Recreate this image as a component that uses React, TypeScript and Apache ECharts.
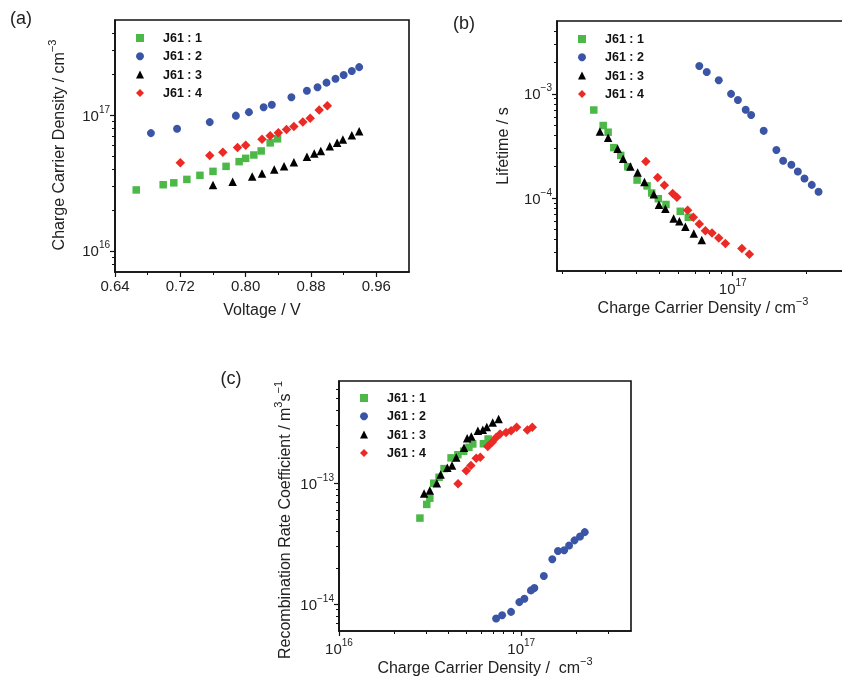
import React, { useEffect, useRef } from "react";
import * as echarts from "echarts";

const FONT = "'Liberation Sans', Arial, Helvetica, sans-serif";
const GREEN = "#4cb848";
const BLUE = "#3b55a6";
const BLACK = "#000000";
const RED = "#ec2a25";
const AXIS = "#111111";

const seriesNames = ["J61 : 1", "J61 : 2", "J61 : 3", "J61 : 4"];

// Panel (a): voltage (V) vs charge carrier density (cm^-3)
const aVoltage1 = [0.666, 0.699, 0.712, 0.728, 0.744, 0.760, 0.776, 0.792, 0.800, 0.810, 0.819, 0.830, 0.839];
const aDensity1 = [2.81e16, 3.07e16, 3.17e16, 3.36e16, 3.60e16, 3.85e16, 4.19e16, 4.54e16, 4.80e16, 5.08e16, 5.44e16, 6.24e16, 6.68e16];
const aVoltage2 = [0.684, 0.716, 0.756, 0.788, 0.804, 0.822, 0.832, 0.856, 0.875, 0.888, 0.899, 0.910, 0.920, 0.930, 0.939];
const aDensity2 = [7.36e16, 7.92e16, 8.87e16, 9.89e16, 1.05e17, 1.14e17, 1.19e17, 1.35e17, 1.51e17, 1.60e17, 1.73e17, 1.85e17, 1.97e17, 2.11e17, 2.25e17];
const aVoltage3 = [0.760, 0.784, 0.808, 0.820, 0.835, 0.847, 0.859, 0.875, 0.884, 0.892, 0.903, 0.912, 0.919, 0.930, 0.939];
const aDensity3 = [3.05e16, 3.23e16, 3.53e16, 3.72e16, 3.98e16, 4.19e16, 4.49e16, 4.94e16, 5.20e16, 5.44e16, 5.89e16, 6.24e16, 6.60e16, 7.11e16, 7.61e16];
const aVoltage4 = [0.720, 0.756, 0.772, 0.790, 0.800, 0.820, 0.830, 0.840, 0.850, 0.859, 0.870, 0.879, 0.890, 0.900];
const aDensity4 = [4.46e16, 5.03e16, 5.32e16, 5.76e16, 6.00e16, 6.64e16, 7.03e16, 7.40e16, 7.84e16, 8.24e16, 8.88e16, 9.45e16, 1.09e17, 1.17e17];

// Panel (b): charge carrier density (cm^-3) vs lifetime (s)
const bDensity1 = [2.69e16, 2.94e16, 3.08e16, 3.25e16, 3.47e16, 3.71e16, 4.05e16, 4.45e16, 4.65e16, 4.95e16, 5.32e16, 6.09e16, 6.57e16];
const bLifetime1 = [7.0e-4, 4.97e-4, 4.29e-4, 3.05e-4, 2.57e-4, 2.0e-4, 1.49e-4, 1.31e-4, 1.12e-4, 9.86e-5, 8.69e-5, 7.48e-5, 6.55e-5];
const bDensity2 = [7.29e16, 7.82e16, 8.76e16, 9.84e16, 1.05e17, 1.13e17, 1.19e17, 1.34e17, 1.51e17, 1.61e17, 1.74e17, 1.85e17, 1.97e17, 2.11e17, 2.25e17];
const bLifetime2 = [1.85e-3, 1.62e-3, 1.35e-3, 1.0e-3, 8.75e-4, 7.05e-4, 6.27e-4, 4.42e-4, 2.89e-4, 2.28e-4, 2.09e-4, 1.8e-4, 1.54e-4, 1.34e-4, 1.15e-4];
const bDensity3 = [2.85e16, 3.08e16, 3.37e16, 3.55e16, 3.80e16, 4.07e16, 4.34e16, 4.74e16, 4.98e16, 5.29e16, 5.72e16, 6.04e16, 6.39e16, 6.92e16, 7.46e16];
const bLifetime3 = [4.35e-4, 3.8e-4, 2.98e-4, 2.38e-4, 2.01e-4, 1.76e-4, 1.43e-4, 1.09e-4, 8.63e-5, 7.89e-5, 6.37e-5, 6.0e-5, 5.32e-5, 4.59e-5, 3.96e-5];
const bDensity4 = [4.40e16, 4.92e16, 5.24e16, 5.67e16, 5.90e16, 6.53e16, 6.89e16, 7.29e16, 7.72e16, 8.22e16, 8.76e16, 9.33e16, 1.09e17, 1.17e17];
const bLifetime4 = [2.25e-4, 1.58e-4, 1.33e-4, 1.11e-4, 1.02e-4, 7.66e-5, 6.55e-5, 5.65e-5, 4.87e-5, 4.62e-5, 4.14e-5, 3.67e-5, 3.28e-5, 2.9e-5];

// Panel (c): charge carrier density (cm^-3) vs recombination rate coefficient (m^3 s^-1)
const cDensity1 = [2.78e16, 3.03e16, 3.15e16, 3.31e16, 3.54e16, 3.77e16, 4.12e16, 4.49e16, 4.83e16, 5.16e16, 5.42e16, 6.20e16, 6.58e16];
const cCoeff1 = [5.15e-14, 6.68e-14, 7.52e-14, 1.0e-13, 1.12e-13, 1.32e-13, 1.62e-13, 1.72e-13, 1.84e-13, 1.98e-13, 2.11e-13, 2.12e-13, 2.32e-13];
const cDensity2 = [7.28e16, 7.85e16, 8.79e16, 9.76e16, 1.04e17, 1.13e17, 1.18e17, 1.33e17, 1.48e17, 1.59e17, 1.72e17, 1.83e17, 1.96e17, 2.10e17, 2.23e17];
const cCoeff2 = [7.62e-15, 8.1e-15, 8.64e-15, 1.04e-14, 1.11e-14, 1.30e-14, 1.36e-14, 1.71e-14, 2.35e-14, 2.75e-14, 2.79e-14, 3.06e-14, 3.37e-14, 3.63e-14, 3.94e-14];
const cDensity3 = [2.93e16, 3.15e16, 3.44e16, 3.61e16, 3.93e16, 4.17e16, 4.40e16, 4.85e16, 5.05e16, 5.32e16, 5.78e16, 6.15e16, 6.47e16, 6.97e16, 7.51e16];
const cCoeff3 = [8.22e-14, 8.7e-14, 1.0e-13, 1.18e-13, 1.34e-13, 1.40e-13, 1.63e-13, 1.96e-13, 2.35e-13, 2.43e-13, 2.72e-13, 2.77e-13, 2.92e-13, 3.18e-13, 3.40e-13];
const cDensity4 = [4.50e16, 4.99e16, 5.29e16, 5.66e16, 5.96e16, 6.55e16, 6.92e16, 7.28e16, 7.65e16, 8.25e16, 8.79e16, 9.43e16, 1.08e17, 1.15e17];
const cCoeff4 = [9.9e-14, 1.27e-13, 1.40e-13, 1.61e-13, 1.64e-13, 2.01e-13, 2.18e-13, 2.39e-13, 2.55e-13, 2.63e-13, 2.72e-13, 2.90e-13, 2.76e-13, 2.90e-13];

// Tick values
const aXTicks = [0.64, 0.72, 0.8, 0.88, 0.96];
const aXMinor = [0.68, 0.76, 0.84, 0.92];
const aYMajor = [1e16, 1e17];
const aYMinor = [8e15, 9e15, 2e16, 3e16, 4e16, 5e16, 6e16, 7e16, 8e16, 9e16, 2e17, 3e17, 4e17];
const bXMajor = [1e17];
const bXMinor = [2e16, 3e16, 4e16, 5e16, 6e16, 7e16, 8e16, 9e16, 2e17];
const bYMajor = [1e-4, 1e-3];
const bYMinor = [3e-5, 4e-5, 5e-5, 6e-5, 7e-5, 8e-5, 9e-5, 2e-4, 3e-4, 4e-4, 5e-4, 6e-4, 7e-4, 8e-4, 9e-4, 2e-3, 3e-3, 4e-3];
const cXMajor = [1e16, 1e17];
const cXMinor = [2e16, 3e16, 4e16, 5e16, 6e16, 7e16, 8e16, 9e16, 2e17, 3e17];
const cYMajor = [1e-14, 1e-13];
const cYMinor = [7e-15, 8e-15, 9e-15, 2e-14, 3e-14, 4e-14, 5e-14, 6e-14, 7e-14, 8e-14, 9e-14, 2e-13, 3e-13, 4e-13, 5e-13, 6e-13];

const zip = (xs: number[], ys: number[]) => xs.map((x, i) => [x, ys[i]]);

const symbols = ["rect", "circle", "triangle", "diamond"];
const sizes = [7.5, 8, 8.5, 9.5];
const colors = [GREEN, BLUE, BLACK, RED];

const powLabel = (v: number) => {
  const e = Math.round(Math.log10(v));
  const s = e < 0 ? "\u2212" + -e : String(e);
  return "{b|10}{s|" + s + "}";
};

const labelRich = () => ({
  b: { fontSize: 15, fontFamily: FONT, color: "#222" },
  s: { fontSize: 10, fontFamily: FONT, color: "#222", padding: [0, 0, 12, 0] },
});

const axisLineSt = () => ({ show: true, lineStyle: { color: AXIS, width: 1.6 } });

const majorLog = (gridIndex: number, min: number, max: number, major: number[], pos: string) => ({
  type: "log",
  gridIndex,
  position: pos,
  min,
  max,
  axisLine: axisLineSt(),
  axisTick: { show: true, length: 5, customValues: major, lineStyle: { color: AXIS, width: 1.2 } },
  axisLabel: {
    show: true,
    customValues: major,
    formatter: powLabel,
    rich: labelRich(),
    margin: pos === "left" ? 5 : 6,
  },
  splitLine: { show: false },
});

const minorLog = (gridIndex: number, min: number, max: number, minor: number[], pos: string) => ({
  type: "log",
  gridIndex,
  position: pos,
  min,
  max,
  axisLine: { show: false },
  axisTick: { show: true, length: 3, customValues: minor, lineStyle: { color: AXIS, width: 1 } },
  axisLabel: { show: false },
  splitLine: { show: false },
});

const titleText = (text: string, x: number, y: number, rotate: boolean) => ({
  type: "text",
  x,
  y,
  rotation: rotate ? Math.PI / 2 : 0,
  silent: true,
  style: {
    text,
    align: "center",
    verticalAlign: "middle",
    fontFamily: FONT,
    fontSize: 16,
    fill: "#222",
    rich: {
      t: { fontSize: 16, fontFamily: FONT, fill: "#222", color: "#222" },
      s: { fontSize: 11, fontFamily: FONT, fill: "#222", color: "#222", padding: [0, 0, 12, 0] },
    },
  },
});

const panelLabel = (text: string, x: number, y: number) => ({
  type: "text",
  x,
  y,
  silent: true,
  style: { text, align: "center", verticalAlign: "middle", fontFamily: FONT, fontSize: 18, fill: "#222" },
});

const makeLegend = (left: number, top: number) => ({
  left,
  top,
  orient: "vertical",
  itemWidth: 8,
  itemHeight: 8,
  itemGap: 4.3,
  selectedMode: false,
  data: seriesNames,
  textStyle: {
    fontFamily: FONT,
    fontWeight: "bold",
    fontSize: 12.5,
    color: "#111",
    lineHeight: 14,
    padding: [0, 0, 0, 14],
  },
});

const gridBox = (left: number, top: number, width: number, height: number) => ({
  left,
  top,
  width,
  height,
  show: true,
  borderColor: AXIS,
  borderWidth: 1.6,
  containLabel: false,
  outerBoundsMode: "none",
});

export default function App() {
  const ref = useRef<HTMLDivElement>(null);
  useEffect(() => {
    if (!ref.current) return;
    const chart = echarts.init(ref.current, null, { renderer: "svg" });

    const aData = [zip(aVoltage1, aDensity1), zip(aVoltage2, aDensity2), zip(aVoltage3, aDensity3), zip(aVoltage4, aDensity4)];
    const bData = [zip(bDensity1, bLifetime1), zip(bDensity2, bLifetime2), zip(bDensity3, bLifetime3), zip(bDensity4, bLifetime4)];
    const cData = [zip(cDensity1, cCoeff1), zip(cDensity2, cCoeff2), zip(cDensity3, cCoeff3), zip(cDensity4, cCoeff4)];

    const series: any[] = [];
    const panels = [
      { data: aData, x: 0, y: 0 },
      { data: bData, x: 2, y: 2 },
      { data: cData, x: 4, y: 4 },
    ];
    panels.forEach((p) => {
      p.data.forEach((d, i) => {
        series.push({
          type: "scatter",
          name: seriesNames[i],
          xAxisIndex: p.x,
          yAxisIndex: p.y,
          data: d,
          symbol: symbols[i],
          symbolSize: sizes[i],
          itemStyle: { color: colors[i], opacity: 1 },
          z: 3 + (i === 2 ? 1 : 0),
        });
      });
    });

    const option: any = {
      animation: false,
      grid: [
        gridBox(115, 20, 294, 252),
        gridBox(557, 21, 292, 250),
        gridBox(339, 381, 292, 250),
      ],
      xAxis: [
        {
          type: "value",
          gridIndex: 0,
          position: "bottom",
          min: 0.64,
          max: 1.0,
          axisLine: axisLineSt(),
          axisTick: { show: true, length: 5, customValues: aXTicks, lineStyle: { color: AXIS, width: 1.2 } },
          axisLabel: {
            customValues: aXTicks,
            formatter: (v: number) => v.toFixed(2),
            fontSize: 15,
            fontFamily: FONT,
            color: "#222",
            margin: 6,
          },
          splitLine: { show: false },
        },
        {
          type: "value",
          gridIndex: 0,
          position: "bottom",
          min: 0.64,
          max: 1.0,
          axisLine: { show: false },
          axisTick: { show: true, length: 3, customValues: aXMinor, lineStyle: { color: AXIS, width: 1 } },
          axisLabel: { show: false },
          splitLine: { show: false },
        },
        majorLog(1, 1.9e16, 3e17, bXMajor, "bottom"),
        minorLog(1, 1.9e16, 3e17, bXMinor, "bottom"),
        majorLog(2, 1e16, 4e17, cXMajor, "bottom"),
        minorLog(2, 1e16, 4e17, cXMinor, "bottom"),
      ],
      yAxis: [
        majorLog(0, 7e15, 5e17, aYMajor, "left"),
        minorLog(0, 7e15, 5e17, aYMinor, "left"),
        majorLog(1, 2e-5, 5e-3, bYMajor, "left"),
        minorLog(1, 2e-5, 5e-3, bYMinor, "left"),
        majorLog(2, 6e-15, 7e-13, cYMajor, "left"),
        minorLog(2, 6e-15, 7e-13, cYMinor, "left"),
      ],
      legend: [makeLegend(131, 26), makeLegend(573, 27), makeLegend(355, 386)],
      graphic: [
        panelLabel("(a)", 21, 18),
        panelLabel("(b)", 464, 23),
        panelLabel("(c)", 231, 378),
        titleText("{t|Charge Carrier Density / cm}{s|\u22123}", 58, 145, true),
        titleText("{t|Voltage / V}", 262, 309, false),
        titleText("{t|Lifetime / s}", 502, 146, true),
        titleText("{t|Charge Carrier Density / cm}{s|\u22123}", 703, 307, false),
        titleText("{t|Recombination Rate Coefficient / m}{s|3}{t|s}{s|\u22121}", 284, 520, true),
        titleText("{t|Charge Carrier Density /  cm}{s|\u22123}", 485, 667, false),
      ],
      series,
    };
    chart.setOption(option);
    return () => chart.dispose();
  }, []);
  return <div ref={ref} style={{ position: "fixed", left: 0, top: 0, width: 842, height: 676 }} />;
}
